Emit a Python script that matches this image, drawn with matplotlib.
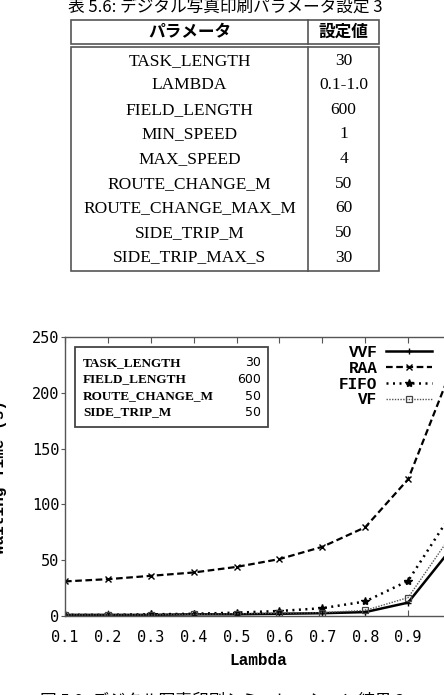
import matplotlib
matplotlib.use("Agg")
import matplotlib.pyplot as plt
from matplotlib.patches import Rectangle

# --- table data ---
table_caption = "表 5.6: デジタル写真印刷パラメータ設定 3"
table_header = ["パラメータ", "設定値"]
param_names = ["TASK_LENGTH", "LAMBDA", "FIELD_LENGTH", "MIN_SPEED", "MAX_SPEED",
               "ROUTE_CHANGE_M", "ROUTE_CHANGE_MAX_M", "SIDE_TRIP_M", "SIDE_TRIP_MAX_S"]
param_values = ["30", "0.1-1.0", "600", "1", "4", "50", "60", "50", "30"]

# --- chart data ---
lam = [0.1, 0.2, 0.3, 0.4, 0.5, 0.6, 0.7, 0.8, 0.9, 1.0]
vvf = [1, 1, 1, 1.5, 1.5, 2, 2.5, 3.5, 12, 60]
raa = [31, 33, 36, 39, 44, 51, 62, 79.5, 122.5, 220]
fifo = [1, 1, 1.5, 2, 3, 4.5, 7, 13, 31.5, 91]
vf = [1, 1, 1, 1.5, 2, 2.5, 3, 5, 16.5, 72]
box_names = ["TASK_LENGTH", "FIELD_LENGTH", "ROUTE_CHANGE_M", "SIDE_TRIP_M"]
box_values = ["30", "600", "50", "50"]
fig_caption = "図 5.9: デジタル写真印刷シミュレーション結果 3"

W, H = 444, 695
fig = plt.figure(figsize=(W / 100, H / 100), dpi=100)
fig.patch.set_facecolor("white")

# chart axes (right side runs off the image like the cropped page)
ax = fig.add_axes([65 / W, (H - 616) / H, 386 / W, 279 / H])
ax.plot(lam, vvf, color="black", lw=1.8, marker="+", ms=5, mew=1, label="VVF")
ax.plot(lam, raa, color="black", lw=1.6, dashes=(3, 1.6), marker="x", ms=4, mew=1, label="RAA")
ax.plot(lam, fifo, color="black", lw=1.8, dashes=(0.8, 1.8), marker="*", ms=6, label="FIFO")
ax.plot(lam, vf, color="#555555", lw=1.0, dashes=(1, 1), marker="s", ms=4.5, mfc="none",
        mec="#444444", mew=0.9, label="VF")

ax.set_xlim(0.1, 1.0)
ax.set_ylim(0, 250)
ax.set_xticks(lam[:-1])
ax.set_xticklabels([f"{v:.1f}" for v in lam[:-1]])
ax.set_yticks([0, 50, 100, 150, 200, 250])
for s in ax.spines.values():
    s.set_color("#555555")
    s.set_linewidth(1.0)
ax.tick_params(axis="x", direction="in", top=True, length=4, pad=10, colors="#555555",
               labelcolor="black")
ax.tick_params(axis="y", direction="out", length=3, pad=1, colors="#555555",
               labelcolor="black")
for t in ax.get_xticklabels() + ax.get_yticklabels():
    t.set_fontfamily("DejaVu Sans Mono")
    t.set_fontsize(11)
ax.set_xlabel("Lambda", family="Liberation Mono", weight="bold", fontsize=11.5, labelpad=6)
ax.set_ylabel("Waiting Time (s)", family="Liberation Mono", weight="bold", fontsize=11.5)
ax.yaxis.set_label_coords(-58 / 386, 0.5)

leg = ax.legend(markerfirst=False, frameon=False, loc="upper right",
                bbox_to_anchor=(432 / W, (H - 345) / H), bbox_transform=fig.transFigure,
                borderaxespad=0, borderpad=0, handlelength=2.9, handletextpad=0.5,
                labelspacing=0.05,
                prop={"family": "Liberation Mono", "weight": "bold", "size": 11.5})

# overlay in pixel coordinates for the page pieces
ov = fig.add_axes([0, 0, 1, 1])
ov.set_xlim(0, W)
ov.set_ylim(H, 0)
ov.axis("off")

jp = ["Noto Sans CJK JP", "DejaVu Sans"]
ov.text(225, 7, table_caption, family=jp, fontsize=12, ha="center", va="center")

lc = "#555555"
ov.add_patch(Rectangle((71, 20), 308, 24, fill=False, ec=lc, lw=1.2))
ov.add_patch(Rectangle((71, 47), 308, 224, fill=False, ec=lc, lw=1.2))
ov.plot([308, 308], [20, 44], color=lc, lw=1.2)
ov.plot([308, 308], [47, 271], color=lc, lw=1.2)
ov.text(189.5, 32, table_header[0], family=jp, weight="bold", fontsize=12, ha="center", va="center")
ov.text(343.5, 32, table_header[1], family=jp, weight="bold", fontsize=12, ha="center", va="center")
for i, (n, v) in enumerate(zip(param_names, param_values)):
    y = 60.7 + i * 24.6
    ov.text(189.5, y, n, family="Liberation Serif", fontsize=12.5, ha="center", va="center")
    ov.text(343.5, y, v, family="Liberation Serif", fontsize=12.5, ha="center", va="center")

# parameter box inside the chart
ov.add_patch(Rectangle((75, 347), 193, 80, fill=False, ec="#444444", lw=1.3))
for i, (n, v) in enumerate(zip(box_names, box_values)):
    y = 363 + i * 16.5
    ov.text(83, y, n, family="Liberation Serif", weight="bold", fontsize=9.5,
            ha="left", va="center")
    ov.text(261, y, v, family="DejaVu Sans", fontsize=9, ha="right", va="center")

ov.text(222, 701, fig_caption, family=jp, fontsize=12, ha="center", va="center")

fig.savefig("out.png", dpi=100)
